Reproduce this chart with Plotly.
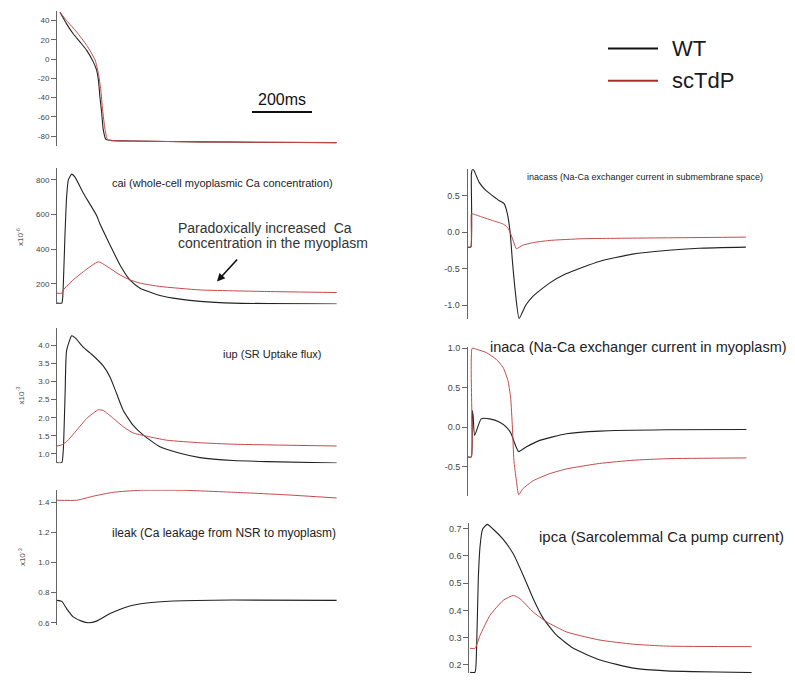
import plotly.graph_objects as go

W, H = 795, 683
FONT = "Liberation Sans, Arial, sans-serif"
BLACK = "#222222"
RED = "#c44a4a"
AXIS = "#666666"
TICKFONT = "#444444"

# ---------------- data (time in ms) ----------------
# Membrane potential (mV)
vm_t_wt = [10, 32, 54, 77, 99, 121, 132, 138, 143, 149, 154, 163, 177, 254, 477, 932]
vm_wt = [48.6, 36.6, 26.3, 17.7, 9.1, -2.9, -11.4, -21.7, -38.9, -56, -73, -83.4, -84.4, -85.1, -86, -86.8]
vm_t_sc = [10, 32, 66, 99, 127, 138, 146, 152, 160, 168, 177, 254, 477, 932]
vm_sc = [48.6, 40, 28, 14.3, -1, -15, -32, -52.6, -73, -83.4, -84.4, -85.1, -86, -86.8]
vm_ticks = [-80, -60, -40, -20, 0, 20, 40]

# cai (x10^-6)
cai_t_wt = [0, 16, 19, 27, 32, 38, 49, 60, 88, 132, 143, 177, 210, 243, 277, 343, 410, 477, 588, 932]
cai_wt = [89, 89, 120, 500, 700, 800, 832, 815, 722, 594, 546, 423, 309, 223, 175, 133, 112, 99, 89, 84]
cai_t_sc = [0, 16, 21, 54, 88, 138, 177, 210, 243, 277, 343, 477, 699, 932]
cai_sc = [146, 146, 165, 223, 270, 327, 289, 251, 223, 204, 185, 165, 156, 150]
cai_ticks = [200, 400, 600, 800]

# iup (x10^-3)
iup_t_wt = [0, 16, 21, 27, 32, 49, 60, 88, 121, 154, 177, 199, 221, 254, 288, 343, 410, 477, 588, 699, 932]
iup_wt = [0.76, 0.76, 1.11, 2.66, 3.85, 4.26, 4.21, 3.94, 3.71, 3.43, 3.12, 2.66, 2.20, 1.79, 1.52, 1.20, 1.02, 0.90, 0.82, 0.79, 0.75]
iup_t_sc = [0, 16, 32, 66, 99, 138, 154, 188, 221, 254, 299, 366, 477, 588, 932]
iup_sc = [1.22, 1.25, 1.34, 1.66, 1.98, 2.22, 2.20, 1.98, 1.75, 1.58, 1.49, 1.38, 1.31, 1.27, 1.22]
iup_ticks = [1.0, 1.5, 2.0, 2.5, 3.0, 3.5, 4.0]

# ileak (x10^-3)
ileak_t_wt = [0, 16, 32, 54, 82, 104, 132, 177, 232, 299, 388, 588, 932]
ileak_wt = [0.749, 0.742, 0.694, 0.639, 0.611, 0.600, 0.611, 0.661, 0.705, 0.731, 0.744, 0.751, 0.749]
ileak_t_sc = [0, 66, 121, 188, 277, 421, 588, 754, 932]
ileak_sc = [1.413, 1.413, 1.44, 1.466, 1.479, 1.479, 1.466, 1.45, 1.428]
ileak_ticks = [0.6, 0.8, 1.0, 1.2, 1.4]

# inacass
inacass_t_wt = [0, 11, 13, 17, 22, 39, 61, 83, 106, 122, 133, 142, 150, 159, 172, 194, 217, 272, 328, 439, 550, 661, 772, 928]
inacass_wt = [-0.205, -0.205, 0.80, 0.86, 0.84, 0.68, 0.57, 0.50, 0.43, 0.39, 0.25, 0.0, -0.41, -0.80, -1.18, -1.0, -0.88, -0.70, -0.57, -0.40, -0.30, -0.25, -0.22, -0.205]
inacass_t_sc = [0, 11, 13, 17, 50, 83, 117, 133, 144, 156, 163, 183, 217, 272, 383, 550, 928]
inacass_sc = [-0.205, -0.205, 0.25, 0.25, 0.205, 0.16, 0.114, 0.068, -0.023, -0.16, -0.227, -0.18, -0.145, -0.114, -0.09, -0.082, -0.068]
inacass_ticks = [-1.0, -0.5, 0.0, 0.5]

# inaca
inaca_t_wt = [0, 11, 14, 17, 22, 44, 72, 106, 128, 144, 156, 169, 194, 239, 328, 439, 661, 928]
inaca_wt = [-0.378, -0.378, 0.21, 0.15, -0.105, 0.105, 0.105, 0.063, 0.0, -0.084, -0.21, -0.31, -0.252, -0.168, -0.084, -0.05, -0.034, -0.03]
inaca_t_sc = [0, 11, 14, 28, 61, 94, 117, 133, 142, 148, 153, 161, 169, 183, 217, 272, 328, 439, 550, 661, 928]
inaca_sc = [-0.378, -0.378, 1.0, 0.987, 0.945, 0.86, 0.756, 0.59, 0.38, 0.0, -0.42, -0.67, -0.857, -0.78, -0.68, -0.59, -0.53, -0.46, -0.42, -0.40, -0.39]
inaca_ticks = [-0.5, 0.0, 0.5, 1.0]

# ipca
ipca_t_wt = [2, 19, 24, 30, 36, 44, 60, 80, 113, 147, 180, 213, 247, 291, 347, 436, 547, 658, 941]
ipca_wt = [0.173, 0.173, 0.249, 0.516, 0.637, 0.697, 0.716, 0.698, 0.661, 0.607, 0.528, 0.443, 0.37, 0.309, 0.261, 0.218, 0.188, 0.178, 0.172]
ipca_t_sc = [2, 19, 36, 69, 113, 147, 169, 213, 258, 324, 436, 547, 658, 941]
ipca_sc = [0.261, 0.261, 0.309, 0.382, 0.437, 0.455, 0.443, 0.394, 0.358, 0.321, 0.291, 0.276, 0.269, 0.267]
ipca_ticks = [0.2, 0.3, 0.4, 0.5, 0.6, 0.7]

series_names = ["WT", "scTdP"]

# ---------------- layout helpers ----------------
MS_PER_PX = 10.0 / 3.0


def px_x(x):
    return x / W


def px_y(y):
    return 1 - y / H


panels = [
    # key, x px domain, y px domain (top, bottom), y range, ticks, fmt, tick font size, data
    ("vm", (57, 337), (7, 143), (-90, 50), vm_ticks, "{:.0f}", 8,
     (vm_t_wt, vm_wt, vm_t_sc, vm_sc)),
    ("cai", (57, 337), (165, 303), (82, 870), cai_ticks, "{:.0f}", 8,
     (cai_t_wt, cai_wt, cai_t_sc, cai_sc)),
    ("iup", (57, 337), (326.7, 463.3), (0.745, 4.48), iup_ticks, "{:.1f}", 8,
     (iup_t_wt, iup_wt, iup_t_sc, iup_sc)),
    ("ileak", (57, 337), (490, 626.7), (0.584, 1.483), ileak_ticks, "{:.1f}", 8,
     (ileak_t_wt, ileak_wt, ileak_t_sc, ileak_sc)),
    ("inacass", (467.5, 747.5), (166.7, 318), (-1.19, 0.86), inacass_ticks, "{:.1f}", 9,
     (inacass_t_wt, inacass_wt, inacass_t_sc, inacass_sc)),
    ("inaca", (468, 748), (346, 496.7), (-0.877, 1.016), inaca_ticks, "{:.1f}", 9,
     (inaca_t_wt, inaca_wt, inaca_t_sc, inaca_sc)),
    ("ipca", (469.3, 752.5), (523.3, 675), (0.17, 0.722), ipca_ticks, "{:.1f}", 9,
     (ipca_t_wt, ipca_wt, ipca_t_sc, ipca_sc)),
]

fig = go.Figure()
layout = dict(
    width=W, height=H, margin=dict(l=0, r=0, t=0, b=0),
    paper_bgcolor="white", plot_bgcolor="white",
    showlegend=False, font=dict(family=FONT, color="#222"),
)

SMOOTH = 0.5
for i, (key, xd, yd, yr, ticks, fmt, tfs, data) in enumerate(panels, start=1):
    sfx = "" if i == 1 else str(i)
    t_wt, v_wt, t_sc, v_sc = data
    fig.add_trace(go.Scatter(x=t_wt, y=v_wt, mode="lines", name=series_names[0],
                             line=dict(color=BLACK, width=1.1, shape="spline", smoothing=SMOOTH),
                             xaxis="x" + sfx, yaxis="y" + sfx))
    fig.add_trace(go.Scatter(x=t_sc, y=v_sc, mode="lines", name=series_names[1],
                             line=dict(color=RED, width=1.0, shape="spline", smoothing=SMOOTH),
                             xaxis="x" + sfx, yaxis="y" + sfx))
    layout["xaxis" + sfx] = dict(
        domain=[px_x(xd[0]), px_x(xd[1])],
        range=[0, (xd[1] - xd[0]) * MS_PER_PX],
        visible=False, anchor="y" + sfx,
    )
    layout["yaxis" + sfx] = dict(
        domain=[px_y(yd[1]), px_y(yd[0])],
        range=list(yr), anchor="x" + sfx,
        showline=True, linecolor=AXIS, linewidth=1,
        ticks="outside", ticklen=5, tickcolor=AXIS, tickwidth=1,
        tickvals=ticks, ticktext=[fmt.format(v) for v in ticks],
        tickfont=dict(size=tfs, color=TICKFONT, family=FONT),
        showgrid=False, zeroline=False,
    )

fig.update_layout(**layout)

annotations = []


def text(x, y, s, size, color="#222", xanchor="left", angle=0):
    annotations.append(dict(
        x=px_x(x), y=px_y(y), xref="paper", yref="paper", text=s,
        showarrow=False, xanchor=xanchor, yanchor="middle", textangle=angle,
        font=dict(size=size, color=color, family=FONT),
    ))


text(110, 181, "cai (whole-cell myoplasmic Ca concentration)", 11)
text(220.7, 353, "iup (SR Uptake flux)", 11)
text(110, 534, "ileak (Ca leakage from NSR to myoplasm)", 12)
text(525, 174.5, "inacass (Na-Ca exchanger current in submembrane space)", 9)
text(488, 346, "inaca (Na-Ca exchanger current in myoplasm)", 14.5)
text(537, 537.5, "ipca (Sarcolemmal Ca pump current)", 15)
text(176, 226, "Paradoxically increased  Ca", 14, "#333")
text(176, 241.5, "concentration in the myoplasm", 14, "#333")

text(20, 235, "x10<sup>-6</sup>", 8, "#555", "center", -90)
text(20, 395, "x10<sup>-3</sup>", 8, "#555", "center", -90)
text(22, 558, "x10<sup>-3</sup>", 8, "#555", "center", -90)

# legend text
text(670, 45, series_names[0], 22, "#1a1a1a")
text(670, 77.5, series_names[1], 22, "#1a1a1a")

# scale bar label (in Vm axes, data coords)
annotations.append(dict(x=750, y=-41.5, xref="x", yref="y", text="200ms", showarrow=False,
                        xanchor="center", yanchor="middle",
                        font=dict(size=16, color="#111", family=FONT)))

# arrow
annotations.append(dict(x=px_x(217), y=px_y(280), xref="paper", yref="paper", text="",
                        showarrow=True, arrowhead=2, arrowsize=1, arrowwidth=1.6,
                        arrowcolor="#111", ax=21.5, ay=-23.5))

shapes = [
    # 200 ms scale bar in Vm axes
    dict(type="line", xref="x", yref="y", x0=650, x1=850, y0=-55, y1=-55,
         line=dict(color="#111", width=2)),
    # legend lines
    dict(type="line", xref="paper", yref="paper", x0=px_x(608), x1=px_x(658),
         y0=px_y(45), y1=px_y(45), line=dict(color="#111", width=2)),
    dict(type="line", xref="paper", yref="paper", x0=px_x(608), x1=px_x(658),
         y0=px_y(77.5), y1=px_y(77.5), line=dict(color="#b32a2a", width=2)),
]

fig.update_layout(annotations=annotations, shapes=shapes)

fig.write_html("out.html", config={"displayModeBar": False},
               post_script="document.body.style.margin='0';")
